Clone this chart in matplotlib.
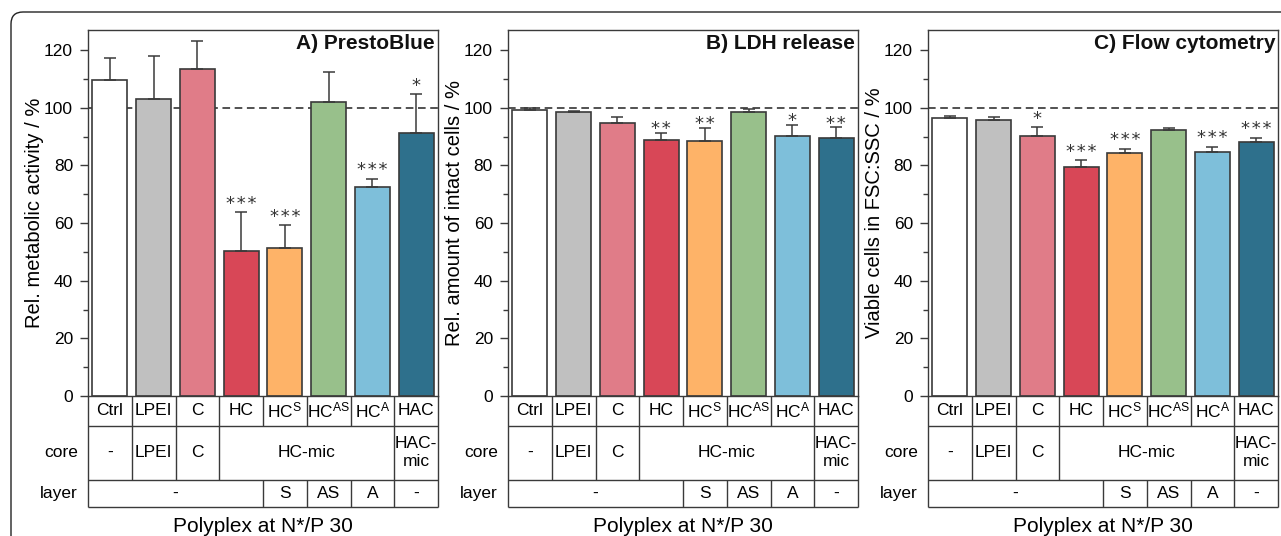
import matplotlib
matplotlib.use('Agg')
import matplotlib.pyplot as plt
from matplotlib.patches import FancyBboxPatch
from matplotlib.transforms import IdentityTransform, blended_transform_factory

plt.rcParams['font.family'] = 'Liberation Sans'
plt.rcParams['mathtext.fontset'] = 'custom'
plt.rcParams['mathtext.rm'] = 'Liberation Sans'
plt.rcParams['mathtext.it'] = 'Liberation Sans:italic'
plt.rcParams['mathtext.bf'] = 'Liberation Sans:bold'

# data
groups = ['Ctrl', 'LPEI', 'C', 'HC', 'HC$^{\\mathrm{S}}$', 'HC$^{\\mathrm{AS}}$',
          'HC$^{\\mathrm{A}}$', 'HAC']
bar_colors = ['#FFFFFF', '#C0C0C0', '#E07C88', '#D84757', '#FEB368', '#98C08B',
              '#7EBFDA', '#2E708C']
core_labels = ['-', 'LPEI', 'C', 'HC-mic', 'HAC-\nmic']
core_spans = [(0, 0), (1, 1), (2, 2), (3, 6), (7, 7)]
layer_labels = ['-', 'S', 'AS', 'A', '-']
layer_spans = [(0, 3), (4, 4), (5, 5), (6, 6), (7, 7)]

presto_mean = [109.5, 103.2, 113.5, 50.4, 51.4, 102.1, 72.5, 91.3]
presto_err = [7.8, 14.8, 9.7, 13.4, 7.9, 10.4, 2.9, 13.4]
presto_sig = ['', '', '', '***', '***', '', '***', '*']

ldh_mean = [99.2, 98.4, 94.7, 89.0, 88.6, 98.4, 90.2, 89.4]
ldh_err = [0.8, 0.5, 2.1, 2.3, 4.5, 1.1, 4.0, 3.9]
ldh_sig = ['', '', '', '**', '**', '', '*', '**']

flow_mean = [96.4, 95.6, 90.2, 79.4, 84.2, 92.4, 84.6, 88.1]
flow_err = [0.6, 1.1, 3.0, 2.5, 1.6, 0.6, 1.9, 1.5]
flow_sig = ['', '', '*', '***', '***', '', '***', '***']

# title, y label, means, errors, stars, star offset (pt)
panels = [
    ('A) PrestoBlue', 'Rel. metabolic activity / %', presto_mean, presto_err, presto_sig, 2.5),
    ('B) LDH release', 'Rel. amount of intact cells / %', ldh_mean, ldh_err, ldh_sig, -1),
    ('C) Flow cytometry', 'Viable cells in FSC:SSC / %', flow_mean, flow_err, flow_sig, 2.5),
]

W, H = 1281, 536
fig = plt.figure(figsize=(W / 100, H / 100), dpi=100)

# outer rounded frame
frame = FancyBboxPatch((11, -100), 1500, H - 12 + 100,
                       boxstyle='round,pad=0,rounding_size=12',
                       transform=IdentityTransform(), fill=False,
                       edgecolor='#222222', linewidth=1.0)
fig.patches.append(frame)

lefts = [88, 508, 928]
ax_w, ax_top, ax_bot = 350, 30, 396
ax_h = ax_bot - ax_top
r1, r2, r3 = -29.5 / ax_h, -83.5 / ax_h, -111.3 / ax_h
edge = '#3a3a3a'
lw = 1.0
x = list(range(len(groups)))

for left, (title, ylab, mean, err, sig, star_off) in zip(lefts, panels):
    ax = fig.add_axes([left / W, 1 - ax_bot / H, ax_w / W, ax_h / H])
    ax.axhline(100, color='#222222', ls=(0, (5, 3)), lw=1.1, zorder=0)
    ax.bar(x, mean, width=0.8, color=bar_colors, edgecolor=edge, linewidth=1.2, zorder=2)
    ax.errorbar(x, mean, yerr=[[0] * len(err), err], fmt='none', ecolor=edge,
                elinewidth=1.1, capsize=4, capthick=1.1, zorder=3)
    for i in x:
        if sig[i]:
            ax.annotate('\u200a'.join(sig[i]), (i, mean[i] + err[i]), xytext=(0, star_off),
                        textcoords='offset points', ha='center', va='baseline',
                        fontsize=13, family='DejaVu Sans', color='#333333', zorder=4)
    ax.set_xlim(-0.5, 7.5)
    ax.set_ylim(0, 127)
    ax.set_yticks([0, 20, 40, 60, 80, 100, 120])
    ax.set_yticks([10, 30, 50, 70, 90, 110], minor=True)
    ax.tick_params(axis='y', which='major', direction='out', length=5.8, width=lw,
                   labelsize=12.5, color=edge, pad=5)
    ax.tick_params(axis='y', which='minor', direction='out', length=3.6, width=lw, color=edge)
    ax.set_xticks([])
    for s in ax.spines.values():
        s.set_color(edge)
        s.set_linewidth(lw)
    ax.set_ylabel(ylab, fontsize=14.5, labelpad=0)
    ax.text(1 - 3 / ax_w, 1 - 4 / ax_h, title, transform=ax.transAxes, ha='right',
            va='top', fontsize=15, fontweight='bold', color='#111111')

    # table below the axes
    tr = blended_transform_factory(ax.transData, ax.transAxes)
    line_kw = dict(transform=tr, color=edge, lw=lw, clip_on=False, solid_capstyle='butt')
    for yy in (r1, r2, r3):
        ax.plot([-0.5, 7.5], [yy, yy], **line_kw)
    for xx in (-0.5, 7.5):
        ax.plot([xx, xx], [0, r3], **line_kw)
    for b in [0.5, 1.5, 2.5, 3.5, 4.5, 5.5, 6.5]:
        ax.plot([b, b], [0, r1], **line_kw)
    for a, b in core_spans[:-1]:
        ax.plot([b + 0.5, b + 0.5], [r1, r2], **line_kw)
    for a, b in layer_spans[:-1]:
        ax.plot([b + 0.5, b + 0.5], [r2, r3], **line_kw)
    for i, g in enumerate(groups):
        ax.text(i, r1 / 2, g, transform=tr, ha='center', va='center', fontsize=12.5)
    for (a, b), lab in zip(core_spans, core_labels):
        ax.text((a + b) / 2, (r1 + r2) / 2, lab, transform=tr, ha='center',
                va='center', fontsize=12.5, linespacing=1.25)
    for (a, b), lab in zip(layer_spans, layer_labels):
        ax.text((a + b) / 2, (r2 + r3) / 2, lab, transform=tr, ha='center',
                va='center', fontsize=12.5)
    ax.text(-10 / ax_w, (r1 + r2) / 2, 'core', transform=ax.transAxes, ha='right',
            va='center', fontsize=12.5)
    ax.text(-10 / ax_w, (r2 + r3) / 2, 'layer', transform=ax.transAxes, ha='right',
            va='center', fontsize=12.5)
    ax.text(0.5, -131 / ax_h, 'Polyplex at N*/P 30', transform=ax.transAxes,
            ha='center', va='center', fontsize=15)

fig.savefig('out.png', dpi=100)
